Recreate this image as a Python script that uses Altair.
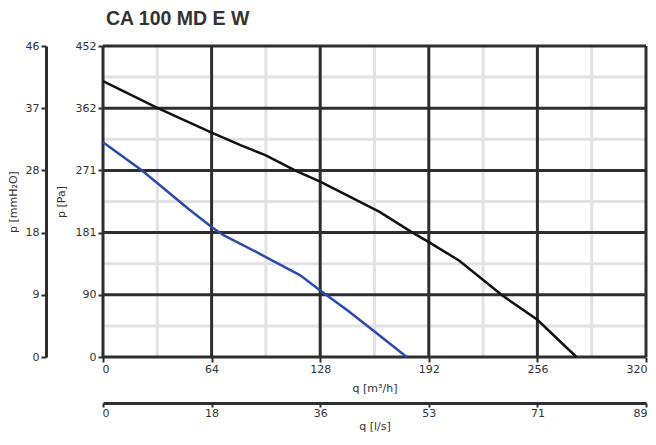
import altair as alt
import pandas as pd

# Curve data: q [m3/h], p [Pa]
q_black = [0, 32, 64, 81, 96, 114, 128, 163, 181, 192, 210, 235, 256, 279]
p_black = [401, 362, 326, 308, 293, 270, 255, 211, 183, 167, 140, 90, 54, 0]
q_blue = [0, 23, 51, 64, 71, 90, 116, 129, 144, 160, 179]
p_blue = [312, 271, 214, 189, 177, 153, 119, 95, 68, 37, 0]

x_major = [0, 64, 128, 192, 256, 320]
x_minor = [32, 96, 160, 224, 288]
y_major = [0, 90.4, 180.8, 271.2, 361.6, 452]
y_minor = [45.2, 135.6, 226.0, 316.4, 406.8]
mm_ticks = [0, 9.2, 18.4, 27.6, 36.8, 46]
ls_ticks = [0, 17.78, 35.56, 53.33, 71.11, 88.89]

FONT = "DejaVu Sans"
DARK = "#2e2e2e"

xs = alt.Scale(domain=[0, 320], nice=False, zero=False)
ys = alt.Scale(domain=[0, 452], nice=False, zero=False)

axis_common = dict(
    grid=False, tickWidth=2, tickColor=DARK,
    labelFont=FONT, labelFontSize=11, labelColor="#333",
    titleFont=FONT, titleFontSize=11, titleFontWeight="normal", titleColor="#333",
)

x_axis = alt.Axis(values=x_major, format=".0f", title="q [m³/h]", labelPadding=1,
                  labelFlush=True, labelFlushOffset=1,
                  tickSize=5, titlePadding=8, domain=False, **axis_common)
y_axis = alt.Axis(values=y_major, format=".0f", title="p [Pa]", labelPadding=2,
                  labelFlush=False,
                  tickSize=5, titlePadding=9, domain=False, **axis_common)

curves = pd.DataFrame({
    "q": q_black + q_blue,
    "p": p_black + p_blue,
    "s": ["black"] * len(q_black) + ["blue"] * len(q_blue),
})

minor_v = alt.Chart(pd.DataFrame({"q": x_minor})).mark_rule(
    color="#e2e2e6", strokeWidth=3).encode(x=alt.X("q:Q", scale=xs, axis=x_axis))
minor_h = alt.Chart(pd.DataFrame({"p": y_minor})).mark_rule(
    color="#e2e2e6", strokeWidth=3).encode(y=alt.Y("p:Q", scale=ys, axis=y_axis))
major_v = alt.Chart(pd.DataFrame({"q": x_major})).mark_rule(
    color=DARK, strokeWidth=3).encode(x=alt.X("q:Q", scale=xs, axis=x_axis))
major_h = alt.Chart(pd.DataFrame({"p": y_major})).mark_rule(
    color=DARK, strokeWidth=3).encode(y=alt.Y("p:Q", scale=ys, axis=y_axis))

lines = alt.Chart(curves).mark_line(strokeWidth=2.5).encode(
    x=alt.X("q:Q", scale=xs, axis=x_axis),
    y=alt.Y("p:Q", scale=ys, axis=y_axis),
    color=alt.Color("s:N", scale=alt.Scale(domain=["black", "blue"],
                                           range=["#111111", "#2b4bab"]), legend=None),
    detail="s:N",
)

main = alt.layer(minor_v, minor_h, major_v, major_h, lines)

mm_layer = alt.Chart(pd.DataFrame({"mm": [0, 46]})).mark_point(opacity=0).encode(
    y=alt.Y("mm:Q", scale=alt.Scale(domain=[0, 46], nice=False, zero=False),
            axis=alt.Axis(orient="left", offset=57, values=mm_ticks, format=".0f",
                          title="p [mmH₂O]", labelPadding=2, titlePadding=7,
                          labelFlush=False,
                          tickSize=5, domain=True, domainWidth=3, domainColor=DARK,
                          **axis_common))
)

ls_layer = alt.Chart(pd.DataFrame({"ls": [0, 88.89]})).mark_point(opacity=0).encode(
    x=alt.X("ls:Q", scale=alt.Scale(domain=[0, 88.89], nice=False, zero=False),
            axis=alt.Axis(orient="bottom", offset=46, values=ls_ticks, format=".0f",
                          title="q [l/s]", labelPadding=0, titlePadding=2,
                          labelFlush=True, labelFlushOffset=1,
                          tickSize=4, domain=True, domainWidth=3, domainColor=DARK,
                          **axis_common))
)

chart = alt.layer(main, mm_layer, ls_layer).resolve_scale(
    x="independent", y="independent"
).properties(
    width=543, height=311,
    title=alt.TitleParams("CA 100 MD E W", anchor="start", frame="group",
                          fontSize=19.5, font="Liberation Sans", fontWeight="bold",
                          color="#333", offset=11, dx=3),
    autosize=alt.AutoSizeParams(type="none"),
    padding={"left": 95, "top": 38, "right": 2, "bottom": 78},
).configure_view(stroke=None)

chart.save("out.html", embed_options={"renderer": "svg", "actions": False})
